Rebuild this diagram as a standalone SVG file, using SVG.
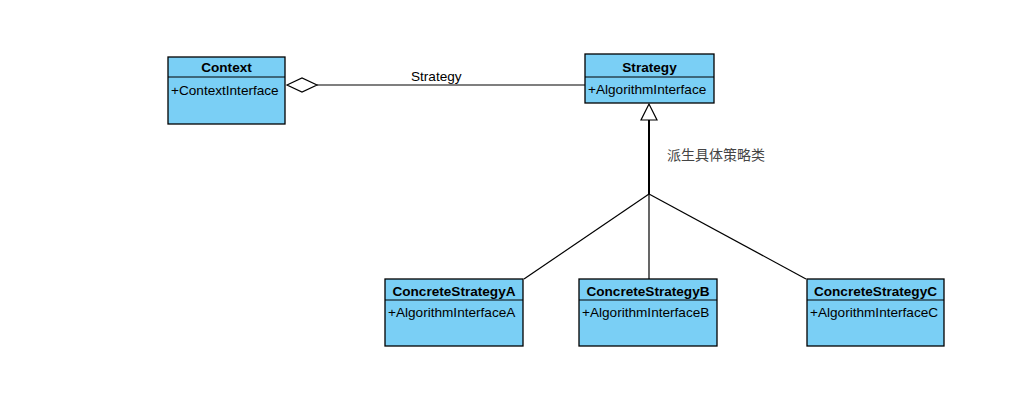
<svg xmlns="http://www.w3.org/2000/svg" width="1033" height="419" viewBox="0 0 1033 419">
<style>
.box{fill:#7acff5;stroke:#000;stroke-width:1.3}
.div{stroke:#000;stroke-width:1}
.t{font-family:"Liberation Sans",Arial,sans-serif;font-size:13.6px;fill:#000}
.b{font-weight:bold;text-anchor:middle}
.ln{stroke:#000;stroke-width:1.2;fill:none}
</style>
<rect width="1033" height="419" fill="#fff"/>
<g id="connectors">
<line class="ln" x1="317" y1="85" x2="585" y2="85"/>
<polygon points="287,85 302,78 317,85 302,92" fill="#fff" stroke="#000" stroke-width="1.2"/>
<text class="t" x="411" y="81">Strategy</text>
<line x1="649" y1="120" x2="649" y2="194" stroke="#000" stroke-width="2"/>
<polygon points="649,104 641,120 657,120" fill="#fff" stroke="#000" stroke-width="1.2"/>
<line class="ln" x1="649" y1="194" x2="524" y2="279"/>
<line class="ln" x1="649" y1="194" x2="649" y2="279"/>
<line class="ln" x1="649" y1="194" x2="806" y2="279"/>
<text x="667" y="160" style="font-family:'Noto Sans CJK SC',sans-serif;font-size:14px;fill:#444">派生具体策略类</text>
</g>
<g id="context">
<rect class="box" x="168" y="57" width="117" height="67"/>
<line class="div" x1="168" y1="77" x2="285" y2="77"/>
<text class="t b" x="226.5" y="72">Context</text>
<text class="t" x="171" y="95">+ContextInterface</text>
</g>
<g id="strategy">
<rect class="box" x="585" y="54" width="129" height="49"/>
<line class="div" x1="585" y1="77" x2="714" y2="77"/>
<text class="t b" x="649.5" y="72">Strategy</text>
<text class="t" x="588" y="94">+AlgorithmInterface</text>
</g>
<g id="concreteA">
<rect class="box" x="385" y="279" width="138" height="67"/>
<line class="div" x1="385" y1="300" x2="523" y2="300"/>
<text class="t b" x="454" y="296">ConcreteStrategyA</text>
<text class="t" x="388" y="317">+AlgorithmInterfaceA</text>
</g>
<g id="concreteB">
<rect class="box" x="579" y="279" width="138" height="67"/>
<line class="div" x1="579" y1="300" x2="717" y2="300"/>
<text class="t b" x="648" y="296">ConcreteStrategyB</text>
<text class="t" x="582" y="317">+AlgorithmInterfaceB</text>
</g>
<g id="concreteC">
<rect class="box" x="807" y="279" width="137" height="67"/>
<line class="div" x1="807" y1="300" x2="944" y2="300"/>
<text class="t b" x="875.5" y="296">ConcreteStrategyC</text>
<text class="t" x="810" y="317">+AlgorithmInterfaceC</text>
</g>
</svg>
